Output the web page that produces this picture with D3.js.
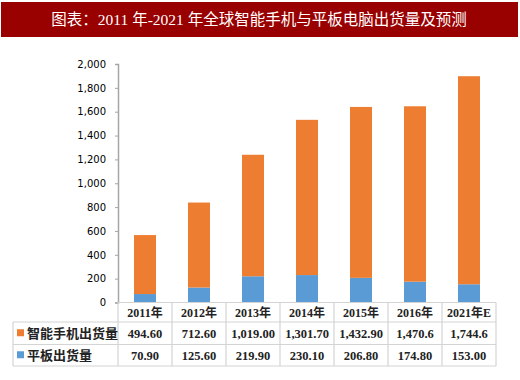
<!DOCTYPE html>
<html><head><meta charset="utf-8">
<script src="https://cdn.jsdelivr.net/npm/d3@7/dist/d3.min.js"></script>
<style>body{margin:0;background:#fff}svg{display:block}</style>
</head><body>
<script>
const title = "图表：2011 年-2021 年全球智能手机与平板电脑出货量及预测";
const categories = ["2011年","2012年","2013年","2014年","2015年","2016年","2021年E"];
const phoneLabel = "智能手机出货量";
const tabletLabel = "平板出货量";
const phone = [494.6, 712.6, 1019.0, 1301.7, 1432.9, 1470.6, 1744.6];
const tablet = [70.9, 125.6, 219.9, 230.1, 206.8, 174.8, 153.0];
const phoneText = ["494.60","712.60","1,019.00","1,301.70","1,432.90","1,470.6","1,744.6"];
const tabletText = ["70.90","125.60","219.90","230.10","206.80","174.80","153.00"];
const yTicks = [0,200,400,600,800,1000,1200,1400,1600,1800,2000];

const W=520,H=380;
const svg=d3.select("body").append("svg").attr("width",W).attr("height",H);
const orange="#ED7D31", blue="#5B9BD5", grid="#d4d4d4";

// title bar
svg.append("rect").attr("x",1).attr("y",2).attr("width",517).attr("height",35).attr("fill","#990000");
svg.append("text").attr("x",259).attr("y",25).attr("text-anchor","middle")
  .attr("fill","#fff").attr("font-family","'Liberation Serif','Noto Sans CJK SC'")
  .attr("font-size",15.5).text(title);

const x=d3.scaleBand().domain(categories).range([118,496]).paddingInner(0).paddingOuter(0);
const y=d3.scaleLinear().domain([0,2000]).range([302.5,64]);
const bw=22;

// bars
const g=svg.append("g");
categories.forEach((c,i)=>{
  const cx=x(c)+x.bandwidth()/2;
  g.append("rect").attr("x",cx-bw/2).attr("width",bw)
    .attr("y",y(tablet[i])).attr("height",y(0)-y(tablet[i])).attr("fill",blue);
  g.append("rect").attr("x",cx-bw/2).attr("width",bw)
    .attr("y",y(tablet[i]+phone[i])).attr("height",y(tablet[i])-y(tablet[i]+phone[i])).attr("fill",orange);
});

// y axis
const yAxis=d3.axisLeft(y).tickValues(yTicks).tickSize(3).tickPadding(9).tickFormat(d3.format(","));
const ya=svg.append("g").attr("transform","translate(118,0)").call(yAxis);
ya.select(".domain").attr("stroke","#a6a6a6").attr("stroke-width",1.5);
ya.selectAll(".tick line").attr("stroke","#a6a6a6");
ya.selectAll(".tick text").attr("font-family","'DejaVu Sans'").attr("font-size",10).attr("fill","#000");

// table
const rows=[302.5,322,344.5,366];
const tg=svg.append("g");
tg.append("line").attr("x1",118).attr("x2",496).attr("y1",rows[0]).attr("y2",rows[0]).attr("stroke",grid).attr("stroke-width",1.2);
[1,2,3].forEach(r=>tg.append("line").attr("x1",13).attr("x2",496).attr("y1",rows[r]).attr("y2",rows[r]).attr("stroke",grid).attr("stroke-width",1.2));
tg.append("line").attr("x1",13).attr("x2",13).attr("y1",rows[1]).attr("y2",rows[3]).attr("stroke",grid).attr("stroke-width",1.2);
categories.forEach(c=>{
  tg.append("line").attr("x1",x(c)+x.bandwidth()).attr("x2",x(c)+x.bandwidth()).attr("y1",rows[0]).attr("y2",rows[3]).attr("stroke",grid).attr("stroke-width",1.2);
});
tg.append("line").attr("x1",118).attr("x2",118).attr("y1",rows[0]).attr("y2",rows[3]).attr("stroke",grid).attr("stroke-width",1.2);

const cellFont="'Liberation Serif','Noto Sans CJK SC'";
categories.forEach((c,i)=>{
  const cx=x(c)+x.bandwidth()/2;
  tg.append("text").attr("x",cx).attr("y",317).attr("text-anchor","middle").attr("font-family",cellFont)
    .attr("font-size",12).attr("font-weight","bold").attr("fill","#222").text(c);
  tg.append("text").attr("x",cx).attr("y",338).attr("text-anchor","middle").attr("font-family",cellFont)
    .attr("font-size",12.5).attr("font-weight","bold").attr("fill","#222").text(phoneText[i]);
  tg.append("text").attr("x",cx).attr("y",360).attr("text-anchor","middle").attr("font-family",cellFont)
    .attr("font-size",12.5).attr("font-weight","bold").attr("fill","#222").text(tabletText[i]);
});
[[phoneLabel,orange,(rows[1]+rows[2])/2],[tabletLabel,blue,(rows[2]+rows[3])/2]].forEach(([t,col,cy])=>{
  tg.append("rect").attr("x",17).attr("y",cy-4).attr("width",7).attr("height",7).attr("fill",col);
  tg.append("text").attr("x",27).attr("y",cy+5).attr("font-family","'Noto Sans CJK SC'")
    .attr("font-size",13).attr("font-weight","bold").attr("fill","#222").text(t);
});
</script>
</body></html>
